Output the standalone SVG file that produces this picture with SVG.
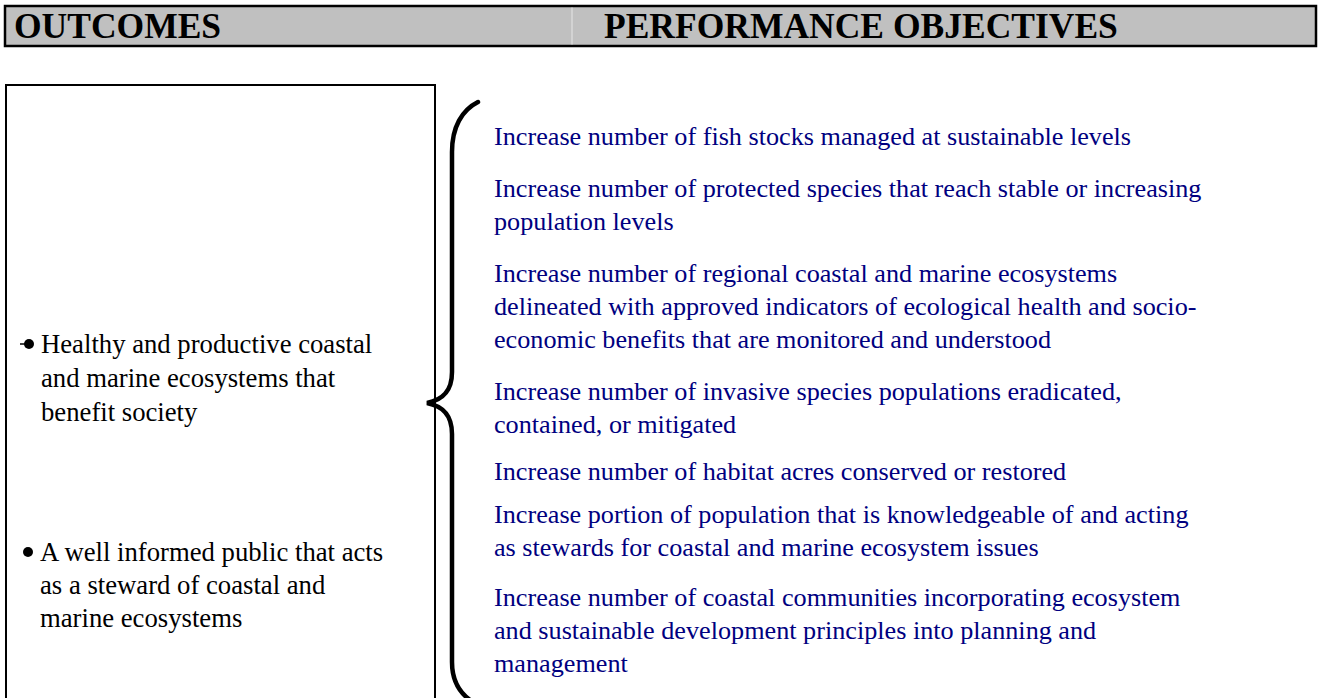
<svg xmlns="http://www.w3.org/2000/svg" width="1322" height="698" viewBox="0 0 1322 698">
<style>
.hdr{font-family:"Liberation Serif","Times New Roman",serif;font-weight:bold;font-size:35.5px;fill:#000}
.out{font-family:"Liberation Serif","Times New Roman",serif;font-size:26.7px;fill:#000}
.obj{font-family:"Liberation Serif","Times New Roman",serif;font-size:26.2px;fill:#000080}
</style>
<rect width="1322" height="698" fill="#fff"/>
<g id="header">
<rect x="5" y="6" width="1311" height="40" fill="#c0c0c0" stroke="#000" stroke-width="2.5"/>
<line x1="572" y1="7.5" x2="572" y2="44.5" stroke="#e6e6e6" stroke-width="1"/>
<text class="hdr" x="14" y="38">OUTCOMES</text>
<text class="hdr" x="604" y="38">PERFORMANCE OBJECTIVES</text>
</g>
<g id="outcomes">
<rect x="6" y="85" width="429" height="640" fill="none" stroke="#000" stroke-width="2"/>
<line x1="20" y1="344" x2="26" y2="344" stroke="#000" stroke-width="1.5"/>
<circle cx="29" cy="344" r="5" fill="#000"/>
<text class="out"><tspan x="41" y="353">Healthy and productive coastal</tspan><tspan x="41" y="387">and marine ecosystems that</tspan><tspan x="41" y="421">benefit society</tspan></text>
<circle cx="28" cy="552" r="5" fill="#000"/>
<text class="out"><tspan x="40" y="561">A well informed public that acts</tspan><tspan x="40" y="594">as a steward of coastal and</tspan><tspan x="40" y="627">marine ecosystems</tspan></text>
</g>
<g id="connectors">
<path d="M478,102 C462,110 452,127 452,152 L452,372 C452,392 442,400 427,403 C442,406 452,414 452,434 L452,662 C452,680 459,692 470,700" fill="none" stroke="#000" stroke-width="4.5" stroke-linecap="round"/>
</g>
<g id="objectives">
<text class="obj"><tspan x="494" y="145">Increase number of fish stocks managed at sustainable levels</tspan></text>
<text class="obj"><tspan x="494" y="197">Increase number of protected species that reach stable or increasing</tspan><tspan x="494" y="230">population levels</tspan></text>
<text class="obj"><tspan x="494" y="282">Increase number of regional coastal and marine ecosystems</tspan><tspan x="494" y="315">delineated with approved indicators of ecological health and socio-</tspan><tspan x="494" y="348">economic benefits that are monitored and understood</tspan></text>
<text class="obj"><tspan x="494" y="400">Increase number of invasive species populations eradicated,</tspan><tspan x="494" y="433">contained, or mitigated</tspan></text>
<text class="obj"><tspan x="494" y="480">Increase number of habitat acres conserved or restored</tspan></text>
<text class="obj"><tspan x="494" y="523">Increase portion of population that is knowledgeable of and acting</tspan><tspan x="494" y="556">as stewards for coastal and marine ecosystem issues</tspan></text>
<text class="obj"><tspan x="494" y="606">Increase number of coastal communities incorporating ecosystem</tspan><tspan x="494" y="639">and sustainable development principles into planning and</tspan><tspan x="494" y="672">management</tspan></text>
</g>
</svg>
